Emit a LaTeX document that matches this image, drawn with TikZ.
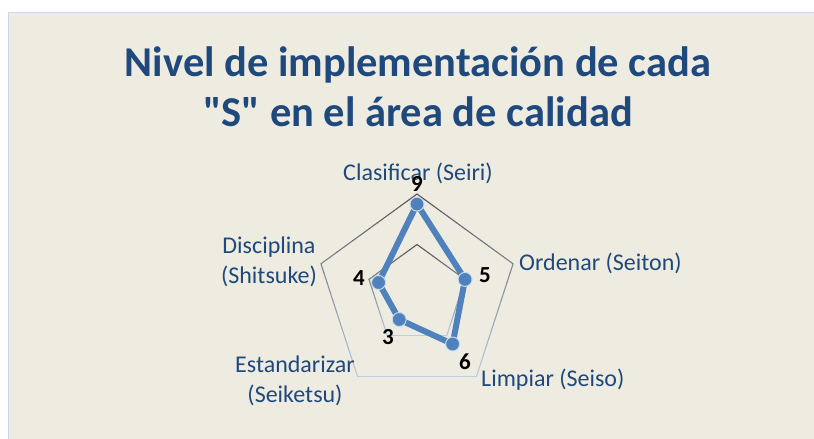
\documentclass[tikz,border=0pt]{standalone}
\usepackage{fontspec}
\setmainfont{Carlito}
\newfontfamily\titlefont{Carlito}[Ligatures=TeXOff]
\definecolor{bg}{HTML}{EEECE1}
\definecolor{framec}{HTML}{C6D9F1}
\definecolor{ttl}{HTML}{1F497D}
\definecolor{ser}{HTML}{4F81BD}
\definecolor{gdark}{HTML}{555555}
\definecolor{glight}{HTML}{B9CDE5}
\newcommand\gridpent[1]{%
  \foreach \k in {0,...,4}{%
    \foreach \s in {0,...,11}{%
      \pgfmathsetmacro\xA{417+#1*sin(72*\k)}%
      \pgfmathsetmacro\yA{295-#1*cos(72*\k)}%
      \pgfmathsetmacro\xB{417+#1*sin(72*(\k+1))}%
      \pgfmathsetmacro\yB{295-#1*cos(72*(\k+1))}%
      \pgfmathsetmacro\xa{\xA+(\xB-\xA)*\s/12}%
      \pgfmathsetmacro\ya{\yA+(\yB-\yA)*\s/12}%
      \pgfmathsetmacro\xb{\xA+(\xB-\xA)*(\s+1)/12}%
      \pgfmathsetmacro\yb{\yA+(\yB-\yA)*(\s+1)/12}%
      \pgfmathsetmacro\fr{((\ya+\yb)/2-(295-#1))/(1.809*#1)}%
      \pgfmathsetmacro\pc{max(0,min(100,100*\fr))}%
      \colorlet{segc}{glight!\pc!gdark}%
      \draw[segc, line width=1.1pt, line cap=round] (\xa,\ya) -- (\xb,\yb);
    }%
  }%
}
\tikzset{
  cat/.style={text=ttl, inner sep=0pt, font=\fontsize{24}{30}\selectfont},
  dlab/.style={text=black, inner sep=0pt, font=\fontsize{23}{28}\selectfont\bfseries},
  marker/.style={circle, fill=ser, draw=ser!30!white, line width=1pt, minimum size=14pt, inner sep=0pt},
  titlestyle/.style={text=ttl, inner sep=0pt, align=center, font=\titlefont\fontsize{42.5}{50}\selectfont\bfseries},
  serline/.style={draw=ser, line width=6pt, line join=round}
}
\begin{document}
\begin{tikzpicture}[x=1pt,y=-1pt]
\useasboundingbox (0,0) rectangle (814,439);
\fill[white] (0,0) rectangle (814,439);
\fill[bg] (8,12) rectangle (814,439);
\draw[framec, line width=1.2pt] (8.6,439) -- (8.6,12.6) -- (814,12.6);

\node[titlestyle] (title) at (418,87) {Nivel de implementación de cada\\"S" en el área de calidad};

\gridpent{101}
\gridpent{50.5}

\coordinate (p0) at (417,{295-9*10.1});
\coordinate (p1) at ({417+5*10.1*sin(72)},{295-5*10.1*cos(72)});
\coordinate (p2) at ({417+6*10.1*sin(144)},{295-6*10.1*cos(144)});
\coordinate (p3) at ({417+3*10.1*sin(216)},{295-3*10.1*cos(216)});
\coordinate (p4) at ({417+4*10.1*sin(288)},{295-4*10.1*cos(288)});
\draw[serline] (p0) -- (p1) -- (p2) -- (p3) -- (p4) -- cycle;
\foreach \i in {0,...,4}{\node[marker] (m\i) at (p\i) {};}

\node[cat] (c0) at (418,173) {Clasificar (Seiri)};
\node[cat, anchor=west] (c1) at (519,263) {Ordenar (Seiton)};
\node[cat, anchor=west] (c2) at (481,380) {Limpiar (Seiso)};
\node[cat, align=center] (c3) at (295,381) {Estandarizar\\(Seiketsu)};
\node[cat, align=center] (c4) at (269,262) {Disciplina\\(Shitsuke)};

\node[dlab] (d0) at (417,184) {9};
\node[dlab] (d1) at (485,275) {5};
\node[dlab] (d2) at (465,362) {6};
\node[dlab] (d3) at (388,337) {3};
\node[dlab] (d4) at (359,278) {4};
\end{tikzpicture}
\end{document}
